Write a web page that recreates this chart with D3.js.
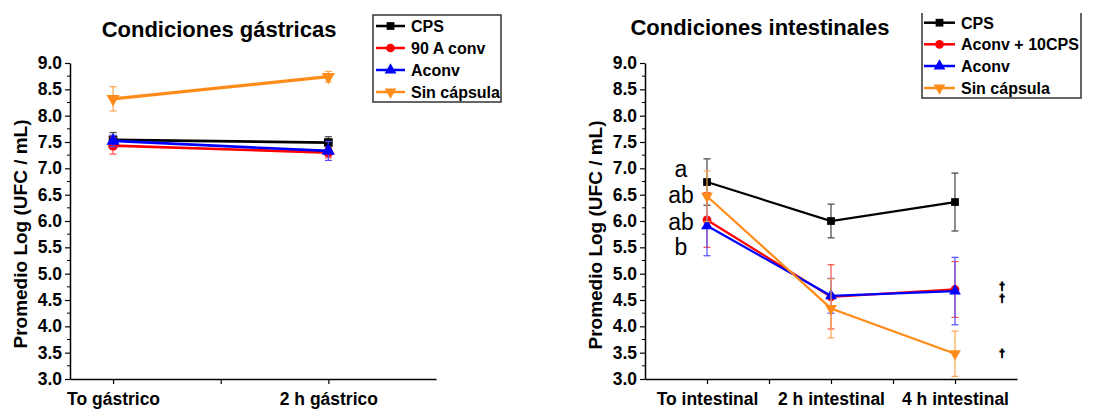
<!DOCTYPE html>
<html>
<head>
<meta charset="utf-8">
<script src="https://cdn.jsdelivr.net/npm/d3@7"></script>
<style>
  html, body { margin: 0; padding: 0; background: #fff; }
  svg { display: block; }
  text { font-family: "Liberation Sans", Arial, sans-serif; }
</style>
</head>
<body>
<svg id="chart" width="1110" height="409"></svg>
<script>
// ---- Gastric phase ----
const gastricCategories = ["To gástrico", "2 h gástrico"];
const gastricSeriesNames = ["CPS", "90 A conv", "Aconv", "Sin cápsula"];
const gastricCPS = [7.54, 7.49];
const gastricCPSErr = [0.14, 0.11];
const gastric90AConv = [7.43, 7.30];
const gastric90AConvErr = [0.16, 0.10];
const gastricAconv = [7.52, 7.33];
const gastricAconvErr = [0.11, 0.18];
const gastricSinCapsula = [8.32, 8.74];
const gastricSinCapsulaErr = [0.23, 0.10];

// ---- Intestinal phase ----
const intestinalCategories = ["To intestinal", "2 h intestinal", "4 h intestinal"];
const intestinalSeriesNames = ["CPS", "Aconv + 10CPS", "Aconv", "Sin cápsula"];
const intestinalCPS = [6.74, 6.00, 6.36];
const intestinalCPSErr = [0.44, 0.32, 0.55];
const intestinalAconv10CPS = [6.02, 4.56, 4.70];
const intestinalAconv10CPSErr = [0.52, 0.61, 0.53];
const intestinalAconv = [5.91, 4.58, 4.67];
const intestinalAconvErr = [0.57, 0.33, 0.64];
const intestinalSinCapsula = [6.47, 4.34, 3.48];
const intestinalSinCapsulaErr = [0.48, 0.56, 0.43];

// Significance letters at the initial time point (value level of each baseline)
const groupLetters = ["a", "ab", "ab", "b"];
const groupLetterLevels = [6.83, 6.34, 5.83, 5.36];
// Daggers next to the 4 h points
const daggerLevels = [4.75, 4.51, 3.47];

// Shared y tick values
const yTicks = [3.0, 3.5, 4.0, 4.5, 5.0, 5.5, 6.0, 6.5, 7.0, 7.5, 8.0, 8.5, 9.0];

const colors = ["#000000", "#ff0000", "#0000ff", "#ff8c1a"];
const errColors = ["#444444", "#ff4d4d", "#4d4dff", "#ffa64d"];
const symbols = [d3.symbolSquare, d3.symbolCircle, d3.symbolTriangle, "down"];

const svg = d3.select("#chart");
const FONT = '"Liberation Sans", Arial, sans-serif';

function markerPath(kind, size) {
  if (kind === "down") {
    const tri = d3.symbol().type(d3.symbolTriangle).size(size)();
    return { d: tri, rotate: 180 };
  }
  return { d: d3.symbol().type(kind).size(size)(), rotate: 0 };
}

function drawPanel(opt) {
  const g = svg.append("g");
  const x = d3.scaleLinear().domain(opt.xDomain).range(opt.xRange);
  const y = d3.scaleLinear().domain([3, 9]).range([379, 63]);

  // y axis: major ticks every 0.5, minor every 0.25
  const yAxis = d3.axisLeft(y)
    .tickValues(yTicks)
    .tickFormat(d3.format(".1f"))
    .tickSize(5)
    .tickSizeOuter(0)
    .tickPadding(3);
  const ya = g.append("g")
    .attr("transform", `translate(${opt.xRange[0]},0)`)
    .call(yAxis);
  ya.select(".domain").attr("stroke", "#000").attr("stroke-width", 1.5);
  ya.selectAll(".tick line").attr("stroke", "#000").attr("stroke-width", 1.2);
  ya.selectAll(".tick text")
    .attr("font-family", FONT).attr("font-size", 17.5).attr("font-weight", "bold").attr("fill", "#000");
  const minor = d3.range(3.25, 9, 0.5);
  g.append("g").selectAll("line").data(minor).join("line")
    .attr("x1", opt.xRange[0] - 3).attr("x2", opt.xRange[0])
    .attr("y1", d => y(d)).attr("y2", d => y(d))
    .attr("stroke", "#000").attr("stroke-width", 1);

  // x axis
  const xAxis = d3.axisBottom(x)
    .tickValues(opt.xTicks)
    .tickFormat(d => Number.isInteger(d) ? opt.categories[d - 1] : "")
    .tickSize(5)
    .tickSizeOuter(0)
    .tickPadding(9);
  const xa = g.append("g").attr("transform", "translate(0,379)").call(xAxis);
  xa.select(".domain").attr("stroke", "#000").attr("stroke-width", 1.5);
  xa.selectAll(".tick line").attr("stroke", "#000").attr("stroke-width", 1.2);
  xa.selectAll(".tick text")
    .attr("font-family", FONT).attr("font-size", 17.5).attr("font-weight", "bold").attr("fill", "#000");

  // y label
  g.append("text")
    .attr("transform", `translate(${opt.yLabelX},${opt.yLabelY}) rotate(-90)`)
    .attr("text-anchor", "middle")
    .attr("font-family", FONT).attr("font-size", 19).attr("font-weight", "bold")
    .text("Promedio Log (UFC / mL)");

  // title
  g.append("text")
    .attr("x", opt.titleX).attr("y", opt.titleY)
    .attr("text-anchor", "middle")
    .attr("font-family", FONT).attr("font-size", 22).attr("font-weight", "bold")
    .text(opt.title);

  // series: error bars, lines, markers
  opt.series.forEach((s, i) => {
    const pts = s.values.map((v, j) => ({ x: j + 1, v, e: s.errors[j] }));
    const eb = g.append("g").attr("stroke", errColors[i]).attr("stroke-width", 1.2);
    pts.forEach(p => {
      eb.append("line").attr("x1", x(p.x)).attr("x2", x(p.x))
        .attr("y1", y(p.v - p.e)).attr("y2", y(p.v + p.e));
      [p.v - p.e, p.v + p.e].forEach(yy => {
        eb.append("line").attr("x1", x(p.x) - 3.5).attr("x2", x(p.x) + 3.5)
          .attr("y1", y(yy)).attr("y2", y(yy));
      });
    });
    g.append("path").datum(pts)
      .attr("fill", "none").attr("stroke", colors[i])
      .attr("stroke-width", opt.lineWidths[i])
      .attr("d", d3.line().x(p => x(p.x)).y(p => y(p.v)));
    const m = markerPath(symbols[i], opt.markerSize);
    g.append("g").selectAll("path").data(pts).join("path")
      .attr("d", m.d)
      .attr("fill", colors[i])
      .attr("transform", p => `translate(${x(p.x)},${y(p.v)}) rotate(${m.rotate})`);
  });

  // legend
  const lg = g.append("g");
  const L = opt.legend;
  if (L.openTop) {
    lg.append("path")
      .attr("d", `M${L.x0},${L.y0}V${L.y1}H${L.x1}V${L.y0}`)
      .attr("fill", "none").attr("stroke", "#333").attr("stroke-width", 1.5);
  } else {
    lg.append("rect")
      .attr("x", L.x0).attr("y", L.y0).attr("width", L.x1 - L.x0).attr("height", L.y1 - L.y0)
      .attr("fill", "#fff").attr("stroke", "#333").attr("stroke-width", 1.5);
  }
  opt.names.forEach((name, i) => {
    const yy = L.rowY[i];
    lg.append("line").attr("x1", L.lineX0).attr("x2", L.lineX1)
      .attr("y1", yy).attr("y2", yy)
      .attr("stroke", colors[i]).attr("stroke-width", 2.5);
    const m = markerPath(symbols[i], 60);
    lg.append("path").attr("d", m.d).attr("fill", colors[i])
      .attr("transform", `translate(${(L.lineX0 + L.lineX1) / 2},${yy}) rotate(${m.rotate})`);
    lg.append("text").attr("x", L.textX).attr("y", yy + 6)
      .attr("font-family", FONT).attr("font-size", 16).attr("font-weight", "bold")
      .text(name);
  });

  return { g, x, y };
}

drawPanel({
  xDomain: [0.8, 2.5], xRange: [70, 436], xTicks: [1, 1.5, 2],
  categories: gastricCategories,
  title: "Condiciones gástricas", titleX: 219, titleY: 37,
  yLabelX: 27, yLabelY: 234,
  names: gastricSeriesNames,
  series: [
    { values: gastricCPS, errors: gastricCPSErr },
    { values: gastric90AConv, errors: gastric90AConvErr },
    { values: gastricAconv, errors: gastricAconvErr },
    { values: gastricSinCapsula, errors: gastricSinCapsulaErr }
  ],
  lineWidths: [2.7, 2.7, 2.7, 3.3],
  markerSize: 75,
  legend: { x0: 373, x1: 501, y0: 15, y1: 102, rowY: [26, 48, 70, 92],
            lineX0: 376, lineX1: 405, textX: 411, openTop: false }
});

const right = drawPanel({
  xDomain: [0.5, 3.5], xRange: [645, 1017], xTicks: [1, 1.5, 2, 2.5, 3],
  categories: intestinalCategories,
  title: "Condiciones intestinales", titleX: 760, titleY: 35,
  yLabelX: 602, yLabelY: 235,
  names: intestinalSeriesNames,
  series: [
    { values: intestinalCPS, errors: intestinalCPSErr },
    { values: intestinalAconv10CPS, errors: intestinalAconv10CPSErr },
    { values: intestinalAconv, errors: intestinalAconvErr },
    { values: intestinalSinCapsula, errors: intestinalSinCapsulaErr }
  ],
  lineWidths: [2.2, 2.2, 2.2, 2.2],
  markerSize: 60,
  legend: { x0: 922, x1: 1081, y0: 13, y1: 98, rowY: [22.7, 44.3, 66, 88],
            lineX0: 924, lineX1: 955, textX: 961, openTop: true }
});

// group letters beside the initial intestinal time point
right.g.append("g").selectAll("text").data(groupLetters).join("text")
  .attr("x", right.x(0.79))
  .attr("y", (d, i) => right.y(groupLetterLevels[i]))
  .attr("text-anchor", "middle")
  .attr("font-family", FONT).attr("font-size", 23)
  .text(d => d);

// daggers beside the 4 h intestinal points
right.g.append("g").selectAll("text").data(daggerLevels).join("text")
  .attr("x", right.x(3.38))
  .attr("y", d => right.y(d))
  .attr("dy", "0.3em")
  .attr("text-anchor", "middle")
  .attr("font-family", FONT).attr("font-size", 10).attr("font-weight", "bold")
  .attr("fill", "#000").attr("stroke", "#000").attr("stroke-width", 0.9)
  .text("\u2020");
</script>
</body>
</html>
